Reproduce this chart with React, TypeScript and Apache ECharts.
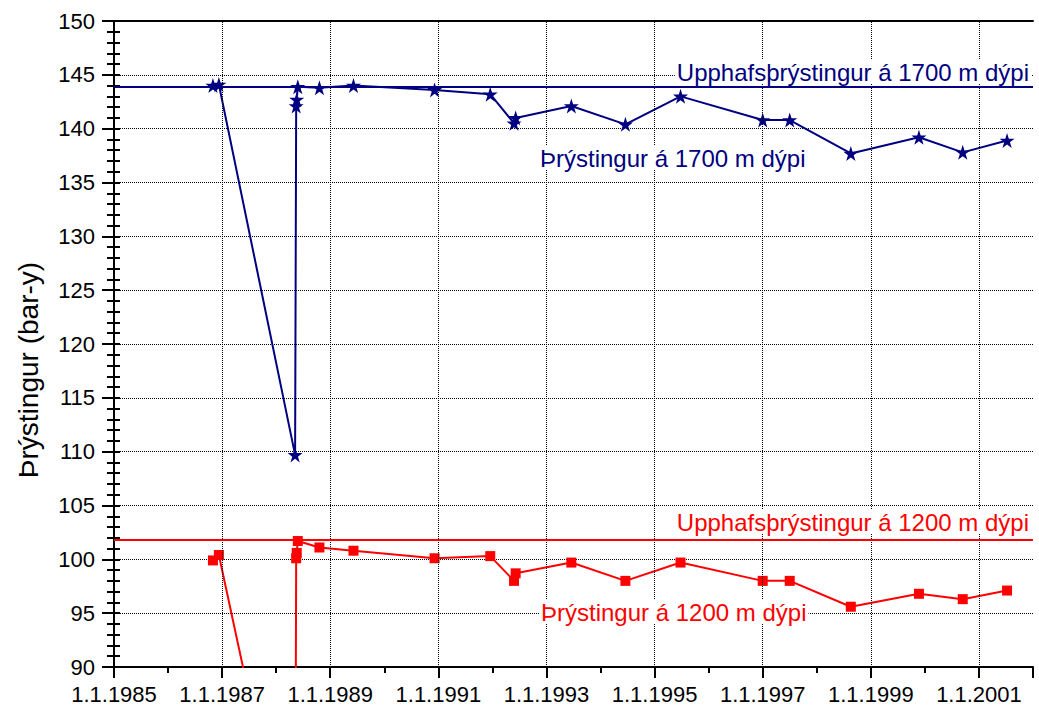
import React, { useEffect, useRef } from "react";
import * as echarts from "echarts";

const BASE_YEAR = 1985;
const X_SPAN = 17; // 1985 .. 2002
const Y_MIN = 90;
const Y_MAX = 150;

// Labelled (major) x ticks, in years
const majorYears = [1985, 1987, 1989, 1991, 1993, 1995, 1997, 1999, 2001];

// Measurement dates (decimal years)
const dates = [
  1986.83, 1986.94, 1988.35, 1988.37, 1988.38, 1988.4, 1988.8, 1989.43, 1990.93,
  1991.96, 1992.4, 1992.43, 1993.46, 1994.46, 1995.48, 1997.0, 1997.5, 1998.63,
  1999.89, 2000.7, 2001.52,
];
// Pressure at 1700 m depth (bar-y)
const p1700 = [
  144.0, 144.1, 109.7, 142.1, 142.7, 143.9, 143.8, 144.0, 143.6, 143.2, 140.5,
  141.0, 142.1, 140.4, 143.0, 140.8, 140.8, 137.7, 139.2, 137.8, 138.9,
];
// Pressure at 1200 m depth (bar-y)
const p1200 = [
  99.9, 100.4, 67.5, 100.1, 100.6, 101.7, 101.1, 100.8, 100.1, 100.3, 98.0, 98.7,
  99.7, 98.0, 99.7, 98.0, 98.0, 95.6, 96.8, 96.3, 97.1,
];
const initial1700 = 143.9;
const initial1200 = 101.8;

const labelInitial1700 = "Upphafsþrýstingur á 1700 m dýpi";
const labelSeries1700 = "Þrýstingur á 1700 m dýpi";
const labelInitial1200 = "Upphafsþrýstingur á 1200 m dýpi";
const labelSeries1200 = "Þrýstingur á 1200 m dýpi";
const yTitle = "Þrýstingur (bar-y)";

const BLUE = "#000080";
const RED = "#ff0000";
const FONT = "'Liberation Sans', Arial, Helvetica, sans-serif";
const STAR =
  "path://M50,0L61.2,34.5L97.6,34.5L68.2,55.9L79.4,90.5L50,69.1L20.6,90.5L31.8,55.9L2.4,34.5L38.8,34.5Z";

const toPairs = (vals: number[]) => dates.map((d, i) => [d - BASE_YEAR, vals[i]]);

export default function App() {
  const ref = useRef<HTMLDivElement>(null);
  useEffect(() => {
    if (!ref.current) return;
    const chart = echarts.init(ref.current, undefined, { renderer: "svg" });
    const axisLineStyle = { color: "#000", width: 2 };
    const gridLine = { color: "#000", width: 1, type: "dotted" as const };
    const rect = { left: 114, right: 6, top: 21, bottom: 44, containLabel: false };
    const annotation = (text: string, x: number, y: number, fill: string, align: string) => ({
      type: "text",
      x,
      y,
      z: 50,
      style: {
        text,
        fill,
        fontSize: 24,
        fontFamily: FONT,
        align,
        verticalAlign: "middle",
        backgroundColor: "#fff",
        padding: [0, 2],
      },
    });
    chart.setOption({
      animation: false,
      backgroundColor: "#fff",
      grid: [rect, { ...rect }],
      xAxis: [
        {
          gridIndex: 0,
          type: "value",
          min: 0,
          max: X_SPAN,
          interval: 2,
          position: "bottom",
          axisLine: { show: true, lineStyle: axisLineStyle },
          axisTick: { show: true, length: 11, lineStyle: axisLineStyle },
          axisLabel: {
            show: true,
            fontSize: 22,
            fontFamily: FONT,
            color: "#000",
            margin: 16,
            formatter: (v: number) => (v > 16 ? "" : `1.1.${BASE_YEAR + v}`),
          },
          splitLine: { show: false },
          minorSplitLine: { show: false },
        },
        {
          gridIndex: 0,
          type: "value",
          min: 0,
          max: X_SPAN,
          position: "top",
          axisLine: { show: true, lineStyle: axisLineStyle },
          axisTick: { show: false },
          axisLabel: { show: false },
          splitLine: { show: false },
        },
        {
          gridIndex: 1,
          type: "value",
          min: 0,
          max: X_SPAN,
          interval: 1,
          position: "bottom",
          axisLine: { show: false },
          axisTick: { show: true, length: 6, lineStyle: axisLineStyle },
          axisLabel: { show: false },
          splitLine: { show: false },
        },
      ],
      yAxis: [
        {
          gridIndex: 0,
          type: "value",
          min: Y_MIN,
          max: Y_MAX,
          interval: 5,
          position: "left",
          axisLine: { show: true, lineStyle: axisLineStyle },
          axisTick: { show: true, length: 12, lineStyle: axisLineStyle },
          minorTick: { show: true, splitNumber: 5, length: 7, lineStyle: axisLineStyle },
          axisLabel: { fontSize: 22, fontFamily: FONT, color: "#000", margin: 19 },
          splitLine: { show: true, lineStyle: gridLine },
        },
        {
          gridIndex: 0,
          type: "value",
          min: Y_MIN,
          max: Y_MAX,
          interval: 5,
          position: "right",
          axisLine: { show: true, lineStyle: axisLineStyle },
          axisTick: { show: true, length: 6, lineStyle: axisLineStyle },
          minorTick: { show: true, splitNumber: 5, length: 6, lineStyle: axisLineStyle },
          axisLabel: { show: false },
          splitLine: { show: false },
        },
        {
          gridIndex: 1,
          type: "value",
          min: Y_MIN,
          max: Y_MAX,
          show: false,
          splitLine: { show: false },
        },
      ],
      series: [
        {
          type: "line",
          name: "grid",
          xAxisIndex: 0,
          yAxisIndex: 0,
          data: [],
          silent: true,
          z: 1,
          markLine: {
            silent: true,
            symbol: "none",
            label: { show: false },
            lineStyle: gridLine,
            data: majorYears.slice(1).map((y) => ({ xAxis: y - BASE_YEAR })),
          },
        },
        {
          type: "line",
          name: labelSeries1700,
          xAxisIndex: 0,
          yAxisIndex: 0,
          data: toPairs(p1700),
          symbol: STAR,
          symbolSize: 15,
          showAllSymbol: true,
          clip: true,
          lineStyle: { color: BLUE, width: 2 },
          itemStyle: { color: BLUE },
          z: 3,
          markLine: {
            silent: true,
            symbol: "none",
            label: { show: false },
            lineStyle: { color: BLUE, width: 2, type: "solid" },
            data: [{ yAxis: initial1700 }],
          },
        },
        {
          type: "line",
          name: labelSeries1200,
          xAxisIndex: 0,
          yAxisIndex: 0,
          data: toPairs(p1200),
          symbol: "rect",
          symbolSize: 10,
          showAllSymbol: true,
          clip: true,
          lineStyle: { color: RED, width: 2 },
          itemStyle: { color: RED },
          z: 3,
          markLine: {
            silent: true,
            symbol: "none",
            label: { show: false },
            lineStyle: { color: RED, width: 2, type: "solid" },
            data: [{ yAxis: initial1200 }],
          },
        },
      ],
      graphic: [
        annotation(labelInitial1700, 1031, 72, BLUE, "right"),
        annotation(labelSeries1700, 538, 158, BLUE, "left"),
        annotation(labelInitial1200, 1031, 522, RED, "right"),
        annotation(labelSeries1200, 539, 612, RED, "left"),
        {
          type: "text",
          x: 28,
          y: 370,
          rotation: Math.PI / 2,
          style: {
            text: yTitle,
            fill: "#000",
            fontSize: 28,
            fontFamily: FONT,
            align: "center",
            verticalAlign: "middle",
          },
        },
      ],
    });
    return () => chart.dispose();
  }, []);
  return (
    <div
      ref={ref}
      style={{ position: "fixed", left: 0, top: 0, width: 1039, height: 711, background: "#fff" }}
    />
  );
}
